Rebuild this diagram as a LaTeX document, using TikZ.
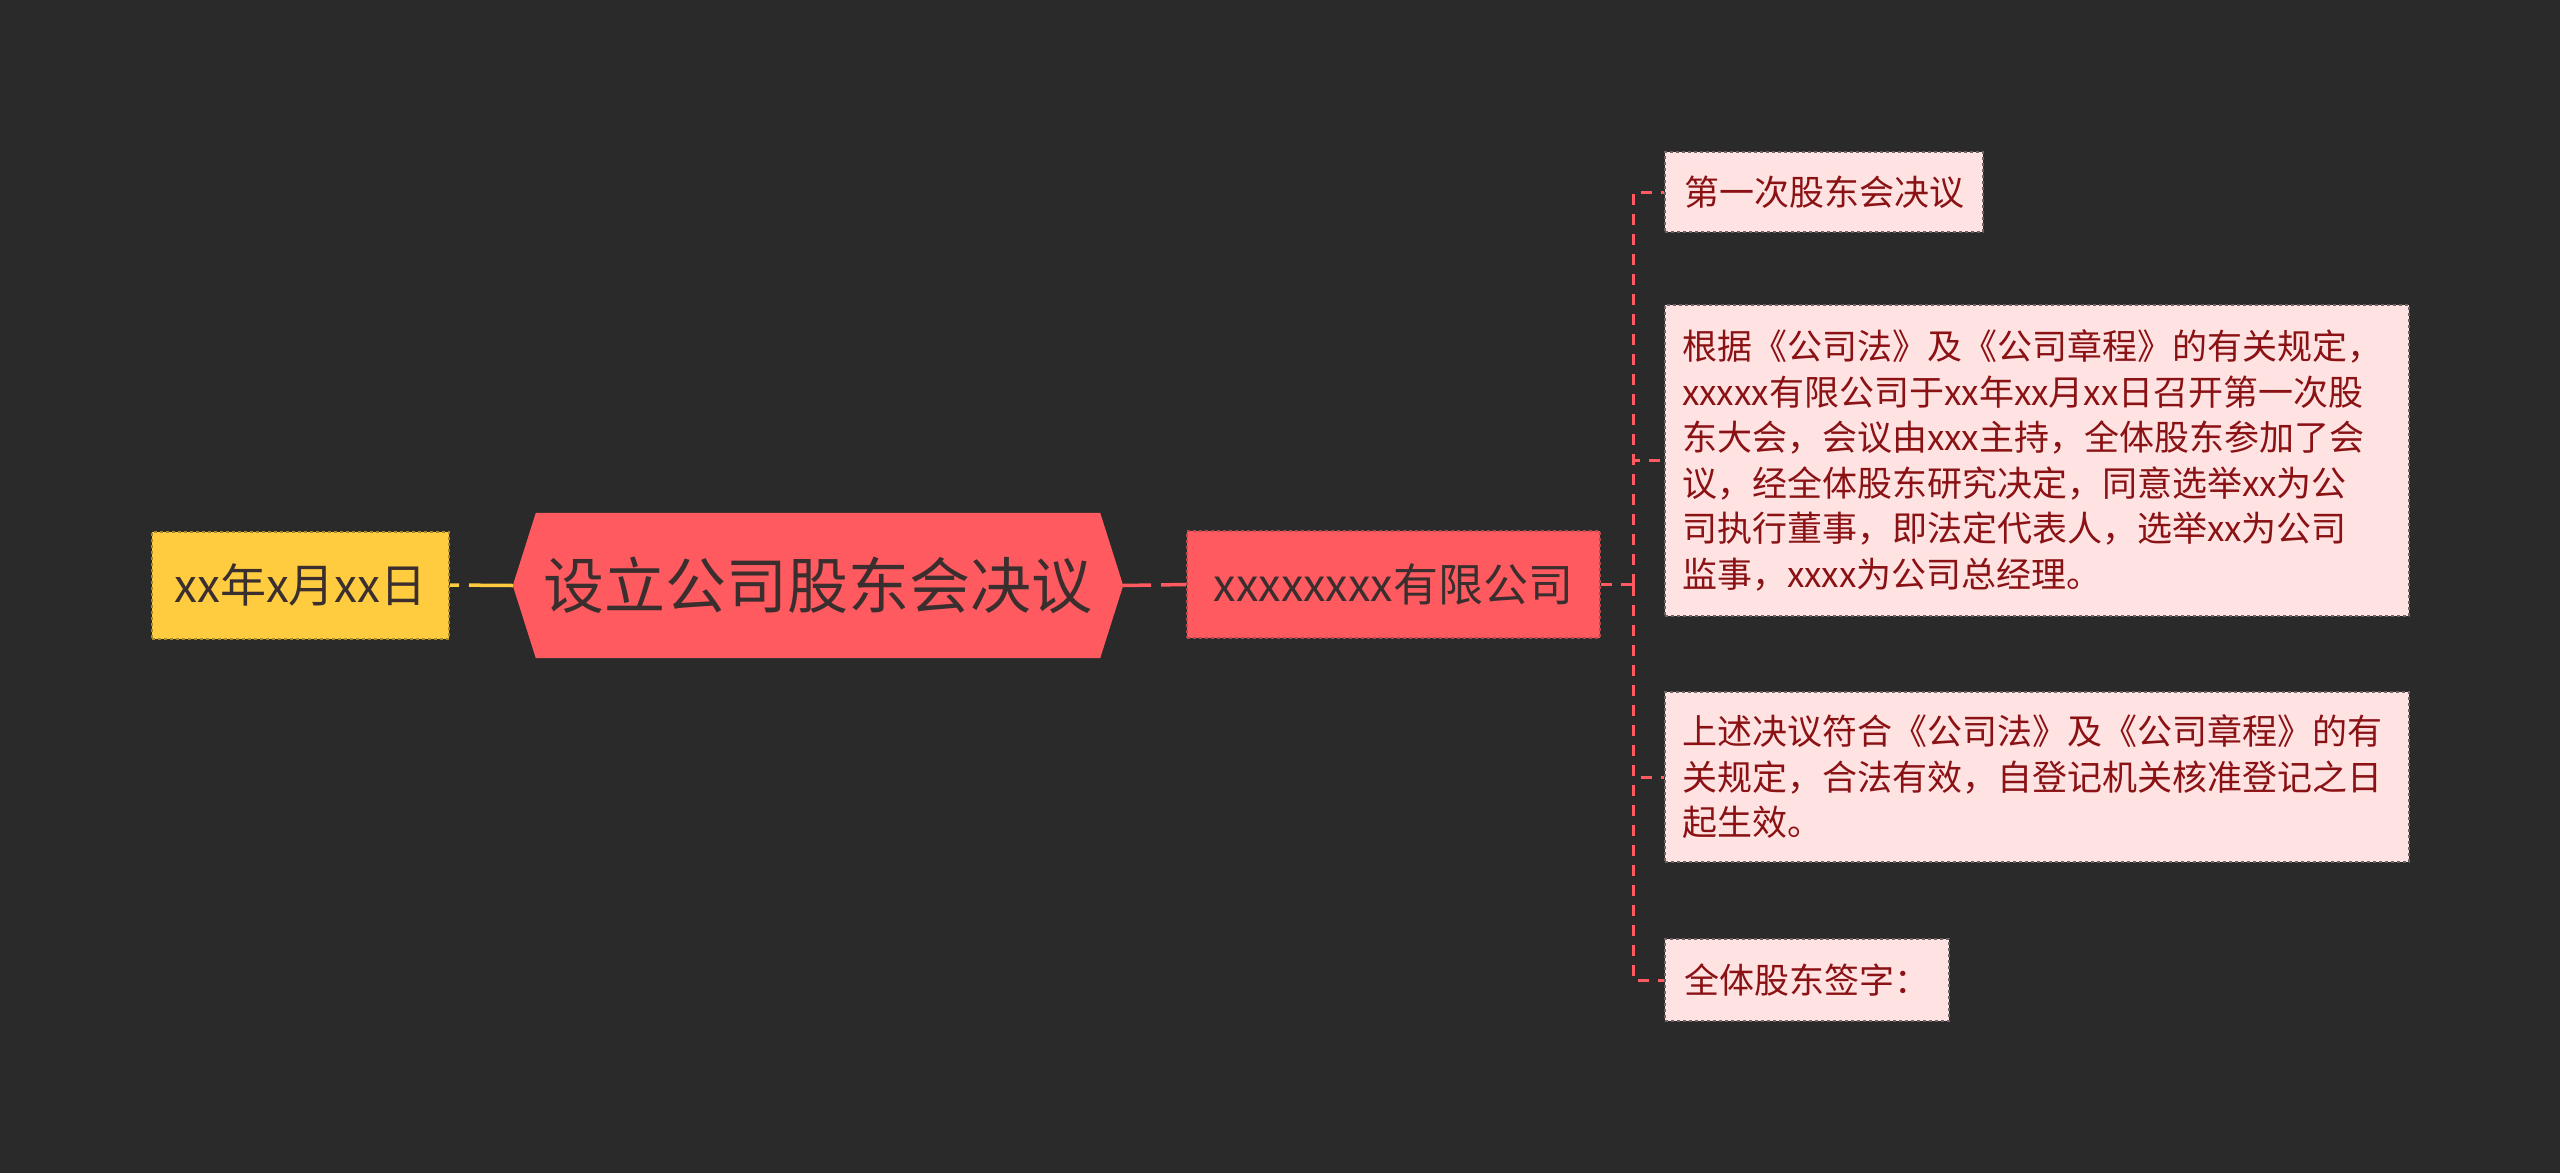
\documentclass[tikz,border=0pt]{standalone}
\usepackage{fontspec}
\setmainfont{Noto Sans CJK SC}
\definecolor{bg}{HTML}{2A2A2A}
\definecolor{yel}{HTML}{FFCC3F}
\definecolor{yelb}{HTML}{A88A2A}
\definecolor{red}{HTML}{FF5A5F}
\definecolor{redb}{HTML}{B8484B}
\definecolor{pink}{HTML}{FFE3E3}
\definecolor{pinkb}{HTML}{6E6262}
\definecolor{dred}{HTML}{8B1214}
\definecolor{dtext}{HTML}{3A2E2E}
\tikzset{
  datebox/.style={fill=yel, draw=yelb, dashed, line width=2pt, text=dtext, minimum width=297pt, minimum height=107pt, inner sep=0pt, font=\fontsize{46pt}{52pt}\selectfont},
  compbox/.style={fill=red, draw=redb, dashed, line width=2pt, text=dtext, minimum width=413pt, minimum height=107pt, inner sep=0pt, font=\fontsize{45pt}{52pt}\selectfont},
  leaf/.style={fill=pink, draw=pinkb, dashed, line width=2pt, text=dred, anchor=west, inner sep=0pt, font=\fontsize{35pt}{45.5pt}\selectfont},
  leafwide/.style={leaf, text width=710pt, align=left, inner xsep=17pt, inner ysep=0pt},
  link/.style={line width=3.5pt},
  branch/.style={draw=red, line width=3pt, dash pattern=on 11pt off 9pt},
}
\begin{document}
\begin{tikzpicture}[x=1pt,y=-1pt]
\useasboundingbox (0,0) rectangle (2560,1173);
\fill[bg] (0,0) rectangle (2560,1173);

% main node
\node[minimum width=610pt, minimum height=145pt, inner sep=0pt] (main) at (818,585.5) {};
\fill[red] (main.west) -- ([xshift=23pt]main.north west) -- ([xshift=-23pt]main.north east) -- (main.east) -- ([xshift=-23pt]main.south east) -- ([xshift=23pt]main.south west) -- cycle;
\node[text=dtext, font=\fontsize{61pt}{70pt}\selectfont] (maintext) at (main.center) {设立公司股东会决议};

% date
\node[datebox] (date) at (300.5,585) {xx年x月xx日};
% company
\node[compbox] (comp) at (1393.5,584.5) {xxxxxxxx有限公司};

% leaves
\node[leaf, minimum width=318pt, minimum height=80pt] (c1) at (1664,192) {第一次股东会决议};
\node[leafwide, minimum height=311pt] (c2) at (1664,460.5) {根据《公司法》及《公司章程》的有关规定，\\xxxxx有限公司于xx年xx月xx日召开第一次股\\东大会，会议由xxx主持，全体股东参加了会\\议，经全体股东研究决定，同意选举xx为公\\司执行董事，即法定代表人，选举xx为公司\\监事，xxxx为公司总经理。};
\node[leafwide, minimum height=170pt] (c3) at (1664,777) {上述决议符合《公司法》及《公司章程》的有\\关规定，合法有效，自登记机关核准登记之日\\起生效。};
\node[leaf, minimum width=284pt, minimum height=82pt] (c4) at (1664,980) {全体股东签字：};

% connectors
\draw[link, yel, dash pattern=on 9pt off 10pt on 200pt] (date.east) -- (main.west);
\draw[link, red, dash pattern=on 28pt off 10pt on 200pt] (main.east) -- (comp.west);

\coordinate (bus) at (1633,584.5);
\draw[branch] (comp.east) -- (bus);
\draw[branch] (bus) |- (c1.west);
\draw[branch] (bus) |- (c2.west);
\draw[branch] (bus) |- (c3.west);
\draw[branch] (bus) |- (c4.west);
\end{tikzpicture}
\end{document}
